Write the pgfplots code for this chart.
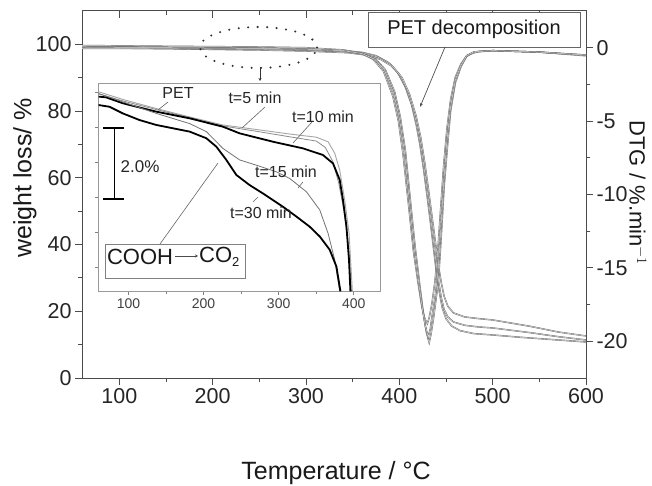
\documentclass[border=0pt]{standalone}
\usepackage{fontspec}
\setmainfont{Liberation Sans}
\usepackage{pgfplots}
\pgfplotsset{compat=1.18}
\usetikzlibrary{arrows.meta}

\pgfplotsset{
  mainline/.style={draw=black!60, double=black!12, double distance=0.5pt, line width=0.45pt, no marks},
  geom/.style={at={(82pt,107pt)}, anchor=south west, scale only axis, width=504pt, height=367pt, xmin=60, xmax=600},
}

\begin{document}
\begin{tikzpicture}[x=1pt,y=1pt]
\useasboundingbox (0,0) rectangle (652,485);

% ---- main axis: weight loss ----
\begin{axis}[geom,
  ymin=0, ymax=110,
  xtick={100,200,...,600}, ytick={0,20,...,100},
  minor x tick num=1, minor y tick num=1,
  xtick pos=lower, ytick pos=left, tick align=outside,
  major tick length=7pt, minor tick length=4pt,
  axis line style={black!70, line width=1pt},
  tick style={black!70, line width=1pt},
  tick label style={font=\fontsize{21.5}{21.5}\selectfont, text=black!85},
  /pgf/number format/assume math mode=true,
]
\addplot[mainline] coordinates {
(60,99.6)(100,99.4)(150,99.2)(200,99.0)(250,98.8)(300,98.5)(340,98.1)(360,97.6)(375,96.6)(388,94.6)(398,91.6)(406,87.5)(413,82)(418,76)(422,70)(426,62.5)(430,54)(434,45)(437,38)(440,31)(443,25.5)(446,21)(450,17.8)(456,15.6)(465,14.2)(480,13.3)(500,12.9)(530,12.2)(570,11.4)(600,10.8)};
\addplot[mainline] coordinates {
(60,99.3)(150,99.0)(250,98.6)(300,98.3)(340,97.9)(362,97.3)(377,96.2)(390,94.2)(400,91)(408,86.5)(415,80.5)(420,74.5)(424,68)(428,60)(432,51.5)(436,42.5)(439,35.5)(442,29)(445,24)(448,20.5)(452,18.3)(458,16.8)(470,15.8)(485,15.3)(500,15.0)(540,13.6)(570,12.4)(600,11.4)};
\addplot[mainline] coordinates {
(60,99.0)(150,98.7)(250,98.3)(300,98.0)(345,97.5)(365,96.8)(380,95.5)(393,93.3)(403,90)(411,85)(418,78.5)(423,72)(427,65)(431,57)(435,48.5)(439,40)(442,33.5)(445,28.5)(448,24.5)(452,21.5)(458,19.5)(470,18.3)(485,17.8)(500,17.4)(540,15.5)(570,13.8)(600,12.6)};
\end{axis}

% ---- DTG axis (right) ----
\begin{axis}[geom,
  ymin=-22.5, ymax=2.5,
  axis x line=none, axis y line*=right,
  ytick={-20,-15,...,0}, minor y tick num=1,
  tick align=outside, major tick length=7pt, minor tick length=4pt,
  axis line style={black!70, line width=1pt},
  tick style={black!70, line width=1pt},
  tick label style={font=\fontsize{21.5}{21.5}\selectfont, text=black!85},
  /pgf/number format/assume math mode=true,
]
\addplot[mainline] coordinates {
(60,-0.05)(150,-0.05)(250,-0.1)(300,-0.15)(340,-0.25)(360,-0.4)(375,-0.8)(385,-1.5)(395,-3.0)(401,-4.7)(406.5,-7)(412,-10.5)(417,-13.6)(422,-16.2)(426,-18.2)(429,-19.4)(432,-20.1)(434,-19.5)(436.5,-18.5)(439,-17.3)(442,-15.8)(445,-12.8)(448,-9.5)(451.5,-6.8)(455,-4.3)(460,-2.4)(466,-1.3)(472,-0.6)(480,-0.3)(500,-0.2)(550,-0.3)(600,-0.5)};
\addplot[mainline] coordinates {
(60,0.15)(150,0.1)(250,0.05)(300,0)(340,-0.15)(358,-0.35)(372,-0.8)(383,-1.6)(393,-3.3)(399,-5)(404,-7.3)(410,-10.8)(415,-13.8)(420,-16)(424,-17.6)(427,-18.4)(430,-18.8)(432,-18.4)(435,-17.4)(438,-16)(441,-14)(444,-11.2)(447.5,-8)(451,-5.5)(455,-3.5)(460,-2)(466,-1.1)(473,-0.5)(485,-0.25)(500,-0.2)(550,-0.3)(600,-0.55)};
\addplot[mainline] coordinates {
(60,0.05)(150,0.0)(250,-0.05)(300,-0.1)(340,-0.2)(360,-0.4)(374,-0.8)(384,-1.5)(394,-3.1)(400,-4.8)(405.5,-7.1)(411,-10.6)(416,-13.7)(421,-16.1)(425,-17.9)(428,-19.0)(431,-19.7)(433,-19.2)(435.5,-18.1)(438.5,-16.9)(441.5,-15.2)(444.5,-12.3)(448,-8.8)(451,-6.3)(455,-4)(460,-2.2)(466,-1.2)(472,-0.55)(480,-0.28)(500,-0.2)(550,-0.3)(600,-0.5)};
\end{axis}

% ---- top ticks (inward) ----
\begin{axis}[geom,
  ymin=0, ymax=1,
  axis x line*=top, axis y line=none,
  xtick={100,200,...,600}, minor x tick num=1, xticklabels={},
  tick align=inside, major tick length=7pt, minor tick length=4pt,
  axis line style={black!70, line width=1pt},
  tick style={black!70, line width=1pt},
]
\end{axis}

% ---- inset ----
\begin{axis}[
  at={(98.5pt,194pt)}, anchor=south west, scale only axis,
  width=281.5pt, height=208pt,
  xmin=60, xmax=435, ymin=93.31, ymax=99.26,
  axis background/.style={fill=white},
  xtick={100,200,300,400}, minor x tick num=1,
  ytick={94,95,...,99}, yticklabels={},
  xtick pos=lower, ytick pos=left, tick align=outside,
  major tick length=4pt, minor tick length=3pt,
  axis line style={black!40, line width=0.8pt},
  tick style={black!50, line width=0.7pt},
  tick label style={font=\fontsize{14}{14}\selectfont, text=black!75},
  /pgf/number format/assume math mode=true,
]
% PET (light gray)
\addplot[black!35, line width=0.9pt, no marks] coordinates {
(60,99.01)(92.4,98.79)(136.9,98.53)(181.3,98.29)(225.7,98.06)(270.2,97.93)(314.7,97.8)(350.2,97.71)(365.8,97.58)(374.7,97.25)(381.3,96.77)(388,95.91)(393.8,94.96)(398.2,93.3)};
% t=5 (light gray)
\addplot[black!45, line width=0.8pt, no marks] coordinates {
(60,98.95)(92,98.75)(137,98.5)(181,98.27)(226,98.03)(270,97.88)(315,97.72)(350,97.6)(362,97.42)(372,97.02)(380,96.4)(387,95.6)(393,94.6)(397,93.3)};
% t=10 (thick black)
\addplot[black, line width=1.8pt, no marks] coordinates {
(60,98.87)(70,98.85)(92.4,98.68)(136.9,98.44)(181.3,98.25)(225.7,98.01)(248,97.82)(292.4,97.58)(332.4,97.39)(359,97.2)(372.4,96.96)(381.3,96.49)(385.7,95.91)(390.3,95.15)(393.7,94.2)(395.6,93.3)};
% t=15 (thin gray)
\addplot[black!55, line width=0.8pt, no marks] coordinates {
(60,98.96)(92.4,98.72)(136.9,98.39)(181.3,98.1)(203.6,97.87)(225.7,97.39)(248,97.06)(270.2,96.91)(296.9,96.72)(314.7,96.53)(336.9,96.15)(354.7,95.63)(365.8,94.96)(374.7,94.2)(381.3,93.3)};
% t=30 (thick black)
\addplot[black, line width=1.8pt, no marks] coordinates {
(60,98.63)(74.7,98.58)(92.4,98.39)(114.7,98.2)(136.9,98.06)(181.3,97.87)(203.6,97.68)(216.9,97.44)(230.3,97.06)(243.6,96.63)(261.3,96.34)(279.1,96.1)(305.7,95.72)(323.6,95.44)(341.3,95.15)(354.7,94.87)(368,94.49)(376.9,94.01)(382.3,93.3)};
\end{axis}

% ---- inset annotations ----
\begin{scope}[font=\fontsize{16}{16}\selectfont, text=black!85]
\node at (178,392) {PET};
\draw[black!60, line width=0.6pt] (168,383) -- (158,375);
\node at (255,387) {t=5 min};
\draw[black!60, line width=0.6pt] (265,378) -- (242,357);
\node at (323,368) {t=10 min};
\draw[black!60, line width=0.6pt] (312,363) -- (293,342);
\node at (286,313) {t=15 min};
\draw[black!60, line width=0.6pt] (303,303) -- (298,297);
\node at (261,272) {t=30 min};
\draw[black!60, line width=0.6pt] (253,283) -- (258,288);
\node at (140,318) {\fontsize{17}{17}\selectfont 2.0\%};
\end{scope}
% scale bar
\draw[black, line width=1.6pt] (114.5,357) -- (114.5,286);
\draw[black, line width=1.6pt] (103,357) -- (124,357);
\draw[black, line width=1.6pt] (103,286) -- (124,286);
% COOH -> CO2 box
\draw[black!50, line width=0.8pt, fill=white] (105,207) rectangle (245,241);
\node[font=\fontsize{22}{22}\selectfont, text=black!90, inner sep=0pt] at (140,228) {COOH};
\draw[black!70, line width=0.6pt, -{Stealth[length=3pt,width=3pt]}] (175,229) -- (198,229);
\node[font=\fontsize{22}{22}\selectfont, text=black!90, inner sep=0pt, anchor=west] at (199,228) {CO\raisebox{-0.35ex}{\fontsize{13}{13}\selectfont 2}};
\draw[black!60, line width=0.6pt] (160,241) -- (218,322);

% dotted ellipse and arrow
\draw[black!80, line width=2.3pt, line cap=round, dash pattern=on 0pt off 9.5pt] (258.5,437.5) ellipse [x radius=58.5, y radius=20.5];
\draw[black!80, line width=0.7pt, -{Stealth[length=3pt,width=3pt]}] (260,418) -- (260,404);

% PET decomposition box
\draw[black!60, line width=0.8pt, fill=white] (368,438) rectangle (580,473);
\node[font=\fontsize{20}{20}\selectfont, text=black!90] at (474,455.5) {PET decomposition};
\draw[black!70, line width=0.7pt, -{Stealth[length=4pt,width=3pt]}] (445,438) -- (420,378);

% axis labels
\node[font=\fontsize{25}{25}\selectfont, text=black!90, rotate=90] at (25,307) {weight loss/ \%};
\node[font=\fontsize{22}{22}\selectfont, text=black!90, rotate=-90] at (638,292) {DTG / \%.min$^{-1}$};
\node[font=\fontsize{25}{25}\selectfont, text=black!90] at (336,12) {Temperature / °C};
\end{tikzpicture}
\end{document}
